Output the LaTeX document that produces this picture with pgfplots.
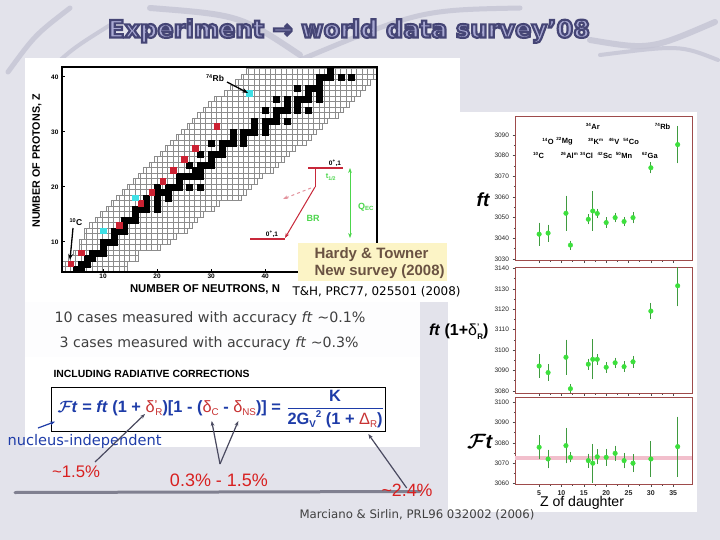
\documentclass[border=0pt]{standalone}
\usepackage{graphicx}
\usepackage{amsmath}
\usepackage{fontspec}
\setmainfont{Liberation Sans}
\newfontfamily\comic{DejaVu Sans}
\usepackage{pgfplots}
\pgfplotsset{compat=1.18}
\usepackage{pgfplotstable}
\usetikzlibrary{patterns.meta,arrows.meta}

\definecolor{slidebg}{HTML}{E3E3EB}
\definecolor{swoosh}{HTML}{C4C4D4}
\definecolor{titlefill}{HTML}{A9A9D2}
\definecolor{nucred}{HTML}{CC2233}
\definecolor{nuccyan}{HTML}{3FE0E6}
\definecolor{gridgray}{HTML}{8C8C8C}
\definecolor{ptgreen}{HTML}{3CE03C}
\definecolor{barsgreen}{HTML}{3F9A3F}
\definecolor{framered}{HTML}{9E4B4B}
\definecolor{bandpink}{HTML}{F2BFCC}
\definecolor{formblue}{HTML}{1E3CA8}
\definecolor{formred}{HTML}{C83232}
\definecolor{notered}{HTML}{D82020}
\definecolor{boxyellow}{HTML}{FCF4C6}
\definecolor{boxtext}{HTML}{6A5242}
\definecolor{levelred}{HTML}{C8283A}
\definecolor{levelgreen}{HTML}{4CD64C}
\definecolor{arrowgray}{HTML}{4A4A60}

% known nuclides, one row per Z: first and last N shown on the chart
\pgfplotstableread{
Z lo hi
5 3 14
6 3 14
7 4 16
8 5 16
9 6 20
10 6 22
11 7 23
12 7 25
13 8 26
14 9 27
15 10 28
16 11 30
17 12 31
18 13 35
19 14 36
20 15 37
21 16 38
22 17 39
23 18 41
24 19 42
25 20 43
26 21 44
27 22 45
28 23 47
29 24 48
30 25 49
31 26 50
32 27 51
33 28 53
34 29 54
35 30 55
36 31 56
37 33 57
38 34 58
39 35 59
40 36 60
41 37 60
}\bandtable

% stable nuclei (N Z)
\pgfplotstableread{
N Z
5 5
6 5
6 6
7 6
7 7
8 7
8 8
9 8
10 8
10 9
10 10
11 10
12 10
12 11
12 12
13 12
14 12
14 13
14 14
15 14
16 14
16 15
16 16
17 16
18 16
20 16
18 17
20 17
18 18
20 18
22 18
20 19
21 19
22 19
20 20
22 20
23 20
24 20
26 20
28 20
24 21
24 22
25 22
26 22
27 22
28 22
27 23
28 23
26 24
28 24
29 24
30 24
30 25
28 26
30 26
31 26
32 26
32 27
30 28
32 28
33 28
34 28
36 28
34 29
36 29
34 30
36 30
37 30
38 30
40 30
38 31
40 31
38 32
40 32
41 32
42 32
44 32
42 33
40 34
42 34
43 34
44 34
46 34
48 34
44 35
46 35
42 36
44 36
46 36
47 36
48 36
50 36
48 37
50 37
46 38
48 38
49 38
50 38
50 39
50 40
51 40
52 40
54 40
56 40
52 41
}\stabletable

% superallowed emitters
\pgfplotstableread{
N Z
4 6
6 8
13 13
17 17
19 19
21 21
23 23
25 25
27 27
31 31
}\redtable
\pgfplotstableread{
N Z
10 12
16 18
37 37
}\cyantable

% Z of daughter, value, error
\pgfplotstableread{
Z v e
5 3042.0 4.3
7 3042.5 2.9
11 3052.1 7.3
12 3036.7 0.9
16 3049.2 1.2
17 3053.2 8.3
18 3052.0 1.1
20 3047.6 1.2
22 3050.0 1.1
24 3048.1 1.0
26 3050.0 1.5
30 3074.1 1.4
36 3085.3 7.8
}\fttable
\pgfplotstableread{
Z v e
5 3092.2 4.5
7 3089.0 2.7
11 3096.5 7.4
12 3081.1 0.9
16 3093.1 1.5
17 3095.5 8.5
18 3095.5 1.3
20 3091.6 1.3
22 3093.8 1.3
24 3091.9 1.3
26 3094.3 1.6
30 3119.1 2.7
36 3131.5 8.8
}\fttabletwo
\pgfplotstableread{
Z v e
5 3077.8 4.7
7 3072.0 3.3
11 3078.6 7.5
12 3072.8 1.2
16 3071.2 2.2
17 3069.9 8.3
18 3073.1 2.3
20 3072.8 2.9
22 3074.8 2.5
24 3071.2 2.5
26 3069.9 3.1
30 3072.0 7.4
36 3078.1 13.5
}\Fttable

\pgfplotsset{
  nucframe/.style={scale only axis, width=315pt, height=205pt,
    xmin=2.4, xmax=60.7, ymin=4.5, ymax=41.8,
    anchor=south west, at={(62pt,-272pt)}},
  ftpanel/.style={scale only axis, width=177pt, xmin=-0.4, xmax=39.2,
    anchor=south west, axis background/.style={fill=white},
    axis line style={draw=framered, line width=0.9pt},
    xtick={5,10,...,35}, minor x tick num=1, minor y tick num=1,
    tick pos=left, tick align=outside,
    major tick length=2.5pt, minor tick length=1.5pt,
    tick style={black!70, line width=0.5pt},
    ticklabel style={font=\fontsize{6.5}{7}\selectfont, text=black!85},
    /pgf/number format/assume math mode=true,
    /pgf/number format/1000 sep={}, scaled y ticks=false},
  ftdata/.style={only marks, mark=*, mark size=2.3pt, color=ptgreen,
    error bars/.cd, y dir=both, y explicit,
    error bar style={barsgreen, line width=0.8pt},
    error mark options={barsgreen, mark size=2.6pt, line width=0.8pt}}
}

\newcommand{\nuc}[2]{\textsuperscript{\fontsize{4.5}{5}\selectfont #1}#2}
\newcommand{\ttl}{Experiment → world data survey’08}
% filled and outlined text (text render mode 2)
\newcommand{\outlined}[1]{\special{pdf:literal direct 2 Tr 0.9 w 0.27 0.27 0.46 RG}#1\special{pdf:literal direct 0 Tr}}

\begin{document}
\begin{tikzpicture}
\path[use as bounding box] (0pt,0pt) rectangle (720pt,-540pt);

\begin{scope}[x=1pt,y=1pt]
  \fill[slidebg] (0,0) rectangle (720,-540);
  \begin{scope}[swoosh, line cap=round, opacity=0.8]
    \draw[line width=5pt] (8,-72) .. controls (35,-35) .. (70,-8);
    \draw[line width=4pt] (40,-80) .. controls (70,-50) .. (115,-22);
    \draw[line width=6pt] (150,-8) .. controls (240,-15) .. (300,-55);
    \draw[line width=5pt] (300,-60) .. controls (420,-10) .. (520,-8);
    \draw[line width=6pt] (590,-40) .. controls (650,-50) .. (715,-22);
    \draw[line width=4pt] (600,-55) .. controls (680,-45) .. (718,-60);
  \end{scope}
  \fill[white] (25,-58) rectangle (460,-302);
  \fill[white] (448,-112) rectangle (697,-512);
  \fill[white!94!slidebg] (25,-302) rectangle (420,-357);
  \fill[white] (25,-357) rectangle (420,-447);
\end{scope}

% band of known nuclides
\begin{axis}[nucframe, hide axis, xbar stacked, bar width=1]
\addplot[draw=none, fill=none] table[y=Z, x expr=\thisrow{lo}-0.5] \bandtable;
\addplot[draw=gridgray, line width=0.35pt,
  pattern={Lines[angle=90, distance=5.403pt, line width=0.35pt]},
  pattern color=gridgray] table[y=Z, x expr=\thisrow{hi}-\thisrow{lo}+1] \bandtable;
\end{axis}

% chart of nuclides
\begin{axis}[nucframe, axis line style={line width=1.2pt},
  xtick={10,20,30,40}, ytick={10,20,30,40},
  tick pos=left, tick align=inside, major tick length=3pt,
  tick style={line width=0.8pt, black},
  ticklabel style={font=\bfseries\fontsize{6.5}{7}\selectfont},
  xticklabel style={yshift=1.5pt},
  /pgf/number format/assume math mode=true]
\addplot[only marks, mark=square*, mark size=3pt, black] table[x=N, y=Z] \stabletable;
\addplot[only marks, mark=square*, mark size=2.8pt, nucred] table[x=N, y=Z] \redtable;
\addplot[only marks, mark=square*, mark size=2.8pt, nuccyan] table[x=N, y=Z] \cyantable;
\end{axis}

% ft
\begin{axis}[ftpanel, at={(515pt,-260pt)}, height=143.3pt,
  ymin=3029.5, ymax=3098.8, ytick={3030,3040,...,3090}, xticklabels={}]
\addplot[ftdata] table[x=Z, y=v, y error=e] \fttable;
\begin{scope}[font=\bfseries\fontsize{7.5}{8}\selectfont]
\node at (axis cs:4.9,3080) {\nuc{10}{C}};
\node at (axis cs:7.0,3086.9) {\nuc{14}{O}};
\node at (axis cs:10.7,3086.9) {\nuc{22}{Mg}};
\node at (axis cs:11.8,3080) {\nuc{26}{Al}\textsuperscript{\fontsize{4.5}{5}\selectfont m}};
\node at (axis cs:15.6,3080) {\nuc{34}{Cl}};
\node at (axis cs:17.0,3094) {\nuc{34}{Ar}};
\node at (axis cs:17.7,3086.9) {\nuc{38}{K}\textsuperscript{\fontsize{4.5}{5}\selectfont m}};
\node at (axis cs:19.7,3080) {\nuc{42}{Sc}};
\node at (axis cs:21.75,3086.9) {\nuc{46}{V}};
\node at (axis cs:24.0,3080) {\nuc{50}{Mn}};
\node at (axis cs:25.6,3086.9) {\nuc{54}{Co}};
\node at (axis cs:29.8,3080) {\nuc{62}{Ga}};
\node at (axis cs:32.6,3094) {\nuc{74}{Rb}};
\end{scope}
\end{axis}

% ft(1+delta_R')
\begin{axis}[ftpanel, at={(515pt,-393pt)}, height=126pt,
  ymin=3079, ymax=3140.7, ytick={3080,3090,...,3140}, xticklabels={}]
\addplot[ftdata] table[x=Z, y=v, y error=e] \fttabletwo;
\end{axis}

% corrected Ft
\begin{axis}[ftpanel, at={(515pt,-484.3pt)}, height=87.3pt,
  ymin=3059.5, ymax=3102.6, ytick={3060,3070,...,3100},
  xticklabel style={font=\bfseries\fontsize{7}{8}\selectfont}]
\addplot[bandpink, line width=4pt, forget plot] coordinates {(-0.4,3072.4) (39.2,3072.4)};
\addplot[ftdata] table[x=Z, y=v, y error=e] \Fttable;
\end{axis}

\begin{scope}[x=1pt,y=1pt]
  % title
  \node[titlefill] at (349,-31) {\resizebox{482pt}{!}{\comic\bfseries\outlined{\ttl}}};

  % nuclide chart labels
  \node[rotate=90] at (37,-161) {\resizebox{!}{7.5pt}{\bfseries NUMBER OF PROTONS, Z}};
  \node at (205,-289) {\resizebox{150pt}{!}{\bfseries NUMBER OF NEUTRONS, N}};
  \node[font=\bfseries\fontsize{8.5}{9}\selectfont] at (215,-78) {\textsuperscript{\fontsize{5.5}{6}\selectfont 74}Rb};
  \draw[line width=1.3pt, -{Stealth[length=6pt]}] (227,-82) -- (248,-93);
  \node[font=\bfseries\fontsize{8.5}{9}\selectfont] at (76,-222) {\textsuperscript{\fontsize{5.5}{6}\selectfont 10}C};
  \draw[line width=1.3pt, -{Stealth[length=6pt]}] (73,-228) -- (70,-260);

  % decay scheme
  \draw[levelred, line width=1.2pt] (308,-168) -- (343,-168);
  \draw[levelred, line width=1.2pt] (250,-239) -- (285,-239);
  \draw[levelred, line width=1pt] (315,-168) -- (315,-187);
  \draw[levelred, line width=1pt, -{Stealth[length=5pt]}] (315,-187) -- (285,-238);
  \draw[levelred!50, line width=1pt, dashed, -{Stealth[length=5pt]}] (311,-188) -- (283,-199);
  \node[font=\bfseries\fontsize{6.5}{7}\selectfont] at (335,-163) {0\textsuperscript{+},1};
  \node[font=\bfseries\fontsize{6.5}{7}\selectfont] at (272,-234) {0\textsuperscript{+},1};
  \node[levelgreen, font=\bfseries\fontsize{7.5}{8}\selectfont] at (331,-177) {t\textsubscript{1/2}};
  \node[levelgreen, font=\bfseries\fontsize{9}{10}\selectfont] at (313,-218) {BR};
  \draw[levelgreen, line width=1pt, {Stealth[length=5pt]}-{Stealth[length=5pt]}] (350,-168) -- (350,-238);
  \node[levelgreen, font=\bfseries\fontsize{9}{10}\selectfont] at (366,-207) {Q\textsubscript{EC}};

  % Hardy & Towner box
  \fill[boxyellow] (298,-243) rectangle (447,-281);
  \node[anchor=west, boxtext] at (311,-255) {\resizebox{114pt}{!}{\bfseries Hardy \& Towner}};
  \node[anchor=west, boxtext] at (311,-272) {\resizebox{130pt}{!}{\bfseries New survey (2008)}};
  \node[anchor=west] at (289,-292) {\resizebox{168pt}{!}{\comic T\&H, PRC77, 025501 (2008)}};

  % accuracy lines
  \node[anchor=west, black!75] at (51,-318.5) {\resizebox{311pt}{!}{\comic 10 cases measured with accuracy \textit{ft} \textasciitilde0.1\%}};
  \node[anchor=west, black!75] at (56,-343.5) {\resizebox{299pt}{!}{\comic 3 cases measured with accuracy \textit{ft} \textasciitilde0.3\%}};

  % formula
  \node[anchor=west] at (50,-373.5) {\resizebox{196pt}{!}{\bfseries INCLUDING RADIATIVE CORRECTIONS}};
  \draw[line width=0.8pt] (51.7,-387.3) rectangle (385,-431);
  \node[anchor=west, formblue] at (54,-409) {\resizebox{327pt}{!}{\bfseries
    \mbox{\boldmath$\mathcal{F}$}\kern-0.5pt\textit{t} = \textit{ft} (1 + {\color{formred}\mdseries δ\raisebox{0.6ex}{\fontsize{6}{6}\selectfont\bfseries ’}\kern-1.2pt\raisebox{-0.4ex}{\fontsize{6}{6}\selectfont R}})[1 - ({\color{formred}\mdseries δ\raisebox{-0.4ex}{\fontsize{6}{6}\selectfont C}} - {\color{formred}\mdseries δ\raisebox{-0.4ex}{\fontsize{6}{6}\selectfont NS}})] =
    $\dfrac{\mbox{K}}{\mbox{2G\raisebox{-0.4ex}{\fontsize{6}{6}\selectfont V}\raisebox{0.8ex}{\fontsize{6}{6}\selectfont 2} (1 + {\color{formred}\mdseries Δ\raisebox{-0.4ex}{\fontsize{6}{6}\selectfont R}})}}$}};

  \node[anchor=west, formblue] at (4,-441) {\resizebox{154pt}{!}{\comic nucleus-independent}};
  \draw[formblue, line width=1.2pt, -{Stealth[length=5pt]}] (38,-428) -- (55,-421.7);

  \draw[arrowgray!70, line width=3pt, line cap=round] (15,-492.5) -- (420,-491.5);
  \node[notered] at (76,-472) {\resizebox{48pt}{!}{\textasciitilde1.5\%}};
  \node[notered] at (219,-480) {\resizebox{98pt}{!}{0.3\% - 1.5\%}};
  \node[notered] at (407,-490) {\resizebox{51pt}{!}{\textasciitilde2.4\%}};
  \begin{scope}[arrowgray, line width=1.2pt]
    \draw[-{Stealth[length=5pt]}] (95,-462) -- (145,-414);
    \draw[-{Stealth[length=5pt]}] (220,-464) -- (211.7,-421);
    \draw[-{Stealth[length=5pt]}] (220,-464) -- (238.3,-421);
    \draw[-{Stealth[length=5pt]}] (406.7,-488) -- (368.3,-434);
  \end{scope}

  % right-hand labels
  \node at (483,-200) {\fontsize{19}{20}\selectfont\bfseries\itshape ft};
  \node[anchor=east] at (492,-332) {\fontsize{16}{17}\selectfont\bfseries\textit{ft} (1+{\mdseries δ}\raisebox{0.7ex}{\fontsize{8}{8}\selectfont ’}\kern-2pt\raisebox{-0.5ex}{\fontsize{8}{8}\selectfont R})};
  \node at (480,-441) {\fontsize{20}{21}\selectfont\bfseries\mbox{\boldmath$\mathcal{F}$}\kern-0.5pt\textit{t}};
  \node at (582,-503) {\resizebox{84pt}{!}{Z of daughter}};
  \node[black!75] at (417,-515) {\resizebox{235pt}{!}{\comic Marciano \& Sirlin, PRL96 032002 (2006)}};
\end{scope}
\end{tikzpicture}
\end{document}
